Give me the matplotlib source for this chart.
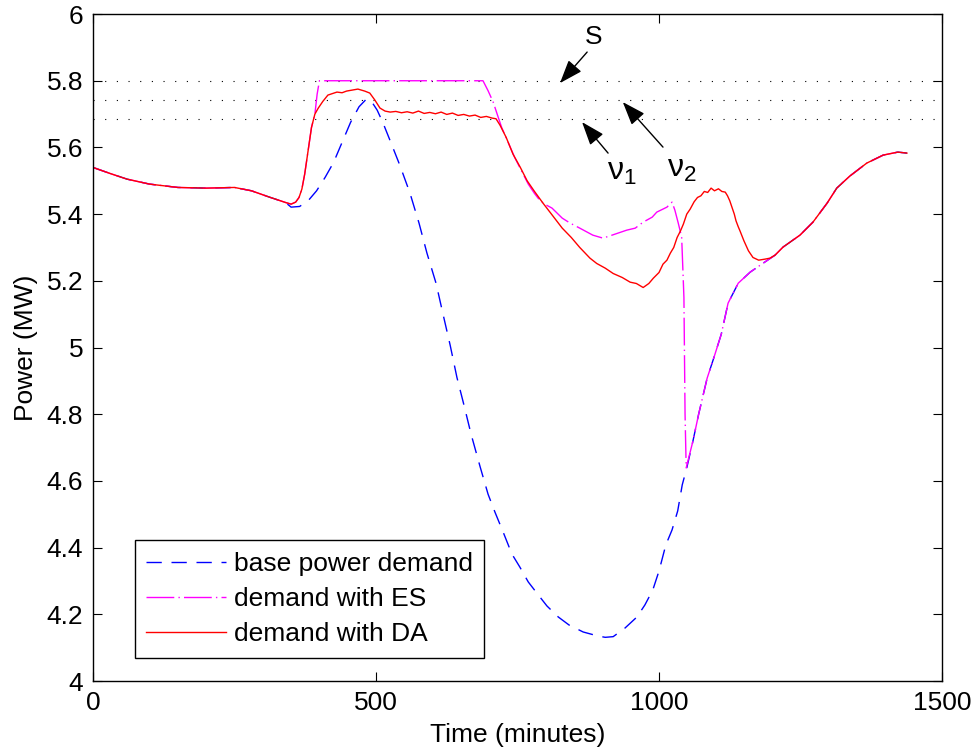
import matplotlib
matplotlib.use("Agg")
import matplotlib.pyplot as plt
from matplotlib.ticker import FormatStrFormatter

plt.rcParams["font.family"] = ["Liberation Sans", "DejaVu Sans"]
plt.rcParams["lines.scale_dashes"] = False

# ── Data ──────────────────────────────────────────────────────────────────────

# base power demand
base_t = [0, 30, 60, 100, 150, 200, 250, 280, 310, 340, 350, 365, 380, 395,
          410, 425, 440, 455, 470, 483, 492, 502, 512, 525, 542, 560, 576,
          590, 606, 618, 631, 643, 655, 668, 684, 698, 710, 725, 740, 754,
          769, 784, 802, 822, 841, 866, 892, 905, 919, 940, 961, 975, 989,
          1000, 1012, 1023, 1033, 1041, 1049, 1060, 1070, 1085, 1097, 1110,
          1122, 1140, 1161, 1184, 1205, 1219, 1249, 1272, 1297, 1314, 1337,
          1367, 1396, 1422, 1438]
base_p = [5.540, 5.522, 5.505, 5.490, 5.480, 5.478, 5.480, 5.470, 5.452,
          5.435, 5.421, 5.423, 5.440, 5.470, 5.510, 5.555, 5.615, 5.675,
          5.722, 5.745, 5.738, 5.712, 5.675, 5.620, 5.547, 5.463, 5.373,
          5.283, 5.193, 5.103, 5.007, 4.910, 4.830, 4.740, 4.642, 4.560,
          4.507, 4.445, 4.381, 4.342, 4.297, 4.264, 4.225, 4.192, 4.168,
          4.147, 4.135, 4.131, 4.133, 4.159, 4.192, 4.228, 4.273, 4.330,
          4.408, 4.453, 4.510, 4.588, 4.639, 4.720, 4.800, 4.908, 4.970,
          5.040, 5.133, 5.193, 5.226, 5.253, 5.277, 5.301, 5.337, 5.376,
          5.433, 5.478, 5.514, 5.553, 5.577, 5.586, 5.583]

# demand with DA (follows the base curve up to t=340 and from t=1205 on)
da_t = [350, 358, 364, 369, 374, 380, 386, 392, 398, 406, 415, 431, 440, 448,
        458, 468, 480, 489, 498, 507, 516, 525, 535, 545, 555, 565, 575,
        585, 595, 605, 615, 625, 635, 645, 655, 665, 675, 685, 695, 705,
        712, 719, 730, 742, 755, 767, 780, 795, 810, 829, 845, 860, 878,
        890, 905, 919, 935, 949, 960, 972, 982, 990, 1000, 1007, 1014,
        1020, 1026, 1032, 1038, 1043, 1049, 1055, 1062, 1068, 1074, 1080,
        1086, 1092, 1098, 1105, 1111, 1117, 1121, 1125, 1129, 1133, 1136,
        1140, 1143, 1150, 1158, 1166, 1176, 1187, 1196]
da_p = [5.430, 5.436, 5.450, 5.475, 5.520, 5.590, 5.660, 5.700, 5.718, 5.738,
        5.757, 5.766, 5.764, 5.769, 5.772, 5.775, 5.769, 5.763, 5.742,
        5.718, 5.709, 5.706, 5.708, 5.704, 5.707, 5.703, 5.709, 5.702,
        5.705, 5.701, 5.706, 5.699, 5.703, 5.696, 5.699, 5.694, 5.697,
        5.690, 5.693, 5.688, 5.686, 5.667, 5.630, 5.580, 5.540, 5.500,
        5.468, 5.433, 5.400, 5.358, 5.330, 5.300, 5.268, 5.252, 5.238,
        5.222, 5.210, 5.196, 5.192, 5.180, 5.192, 5.208, 5.225, 5.250,
        5.262, 5.283, 5.300, 5.330, 5.350, 5.370, 5.400, 5.415, 5.437,
        5.450, 5.455, 5.468, 5.465, 5.478, 5.470, 5.476, 5.468, 5.466,
        5.455, 5.440, 5.420, 5.400, 5.380, 5.362, 5.350, 5.320, 5.290,
        5.270, 5.262, 5.265, 5.268]

# demand with ES (follows DA up to t=392, DA between 722-790, base after 1049)
es_t = [396, 400, 450, 500, 550, 600, 650, 689, 698, 707, 716, 722, 733,
        745, 757, 769, 780, 790, 800, 811, 829, 843, 860, 883, 901, 917,
        943, 958, 972, 988, 996, 1014, 1023, 1028, 1034, 1040, 1044, 1046,
        1048]
es_p = [5.760, 5.800, 5.800, 5.800, 5.800, 5.800, 5.800, 5.800, 5.770,
        5.736, 5.690, 5.660, 5.617, 5.570, 5.530, 5.490, 5.462, 5.440,
        5.428, 5.418, 5.388, 5.373, 5.358, 5.337, 5.328, 5.337, 5.352,
        5.358, 5.376, 5.391, 5.406, 5.421, 5.436, 5.412, 5.373, 5.331,
        5.150, 4.800, 4.639]

# threshold levels (dotted)
levels = [5.800, 5.742, 5.684]

# ── Build full series ─────────────────────────────────────────────────────────

head = [(t, p) for t, p in zip(base_t, base_p) if t <= 340]
tail = [(t, p) for t, p in zip(base_t, base_p) if t >= 1205]
da_full = head + list(zip(da_t, da_p)) + tail
da_x = [t for t, _ in da_full]
da_y = [p for _, p in da_full]

es_head = [(t, p) for t, p in da_full if t <= 392]
es_tail = [(t, p) for t, p in zip(base_t, base_p) if t > 1049]
es_full = es_head + list(zip(es_t, es_p)) + es_tail
es_x = [t for t, _ in es_full]
es_y = [p for _, p in es_full]

# ── Plot ──────────────────────────────────────────────────────────────────────

fig = plt.figure(figsize=(9.77, 7.55), dpi=100)
ax = fig.add_axes([0.0952, 0.0980, 0.8690, 0.8834])

FS = 19

for lv in levels:
    ax.plot([0, 1500], [lv, lv], color="k", lw=0.8, dashes=(0.8, 7.6))

ax.plot(base_t, base_p, color="#0000ff", lw=1.0, dashes=(11, 7),
        label="base power demand")
ax.plot(es_x, es_y, color="#ff00ff", lw=1.0, dashes=(20, 3, 1, 3),
        label="demand with ES")
ax.plot(da_x, da_y, color="#ff0000", lw=1.0, label="demand with DA")

arrow = dict(arrowstyle="-|>,head_length=0.6,head_width=0.22",
             color="k", lw=1.0, mutation_scale=24, shrinkA=0, shrinkB=0)
ax.annotate("", xy=(825, 5.793), xytext=(873, 5.886), arrowprops=arrow)
ax.annotate("", xy=(864, 5.676), xytext=(910, 5.583), arrowprops=arrow)
ax.annotate("", xy=(936, 5.736), xytext=(1007, 5.601), arrowprops=arrow)

ax.text(885, 5.931, "S", fontsize=FS, ha="center", va="center")
ax.text(908, 5.527, r"$\mathregular{ν_1}$", fontsize=23, ha="left",
        va="center")
ax.text(1014, 5.536, r"$\mathregular{ν_2}$", fontsize=23, ha="left",
        va="center")

ax.set_xlim(0, 1500)
ax.set_ylim(4, 6)
ax.set_xticks([0, 500, 1000, 1500])
ax.set_yticks([4 + 0.2 * i for i in range(11)])
ax.yaxis.set_major_formatter(FormatStrFormatter("%g"))
ax.tick_params(direction="in", length=6.5, width=0.8, labelsize=FS,
               top=True, right=True, pad=7)
for sp in ax.spines.values():
    sp.set_linewidth(1.0)

ax.set_xlabel("Time (minutes)", fontsize=FS, labelpad=6)
ax.set_ylabel("Power (MW)", fontsize=FS, labelpad=6)

leg = ax.legend(loc="lower left", bbox_to_anchor=(0.049, 0.034),
                borderaxespad=0, fontsize=FS, handlelength=3.0,
                handletextpad=0.3, labelspacing=0.43, borderpad=0.45,
                fancybox=False, framealpha=1)
leg.get_frame().set_edgecolor("k")
leg.get_frame().set_linewidth(1.0)

fig.savefig("out.png", dpi=100)
